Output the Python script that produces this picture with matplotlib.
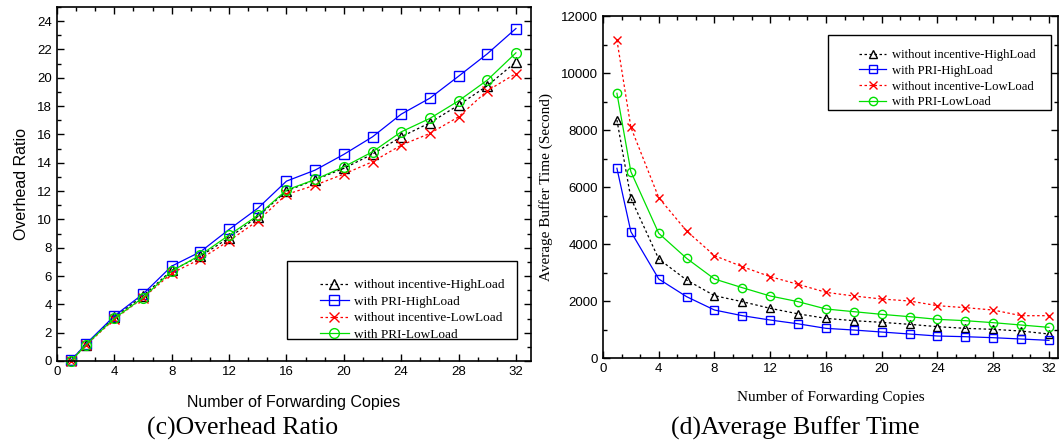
import matplotlib.pyplot as plt
from matplotlib import ticker
from matplotlib.patches import Rectangle

copies = [1, 2, 4, 6, 8, 10, 12, 14, 16, 18, 20, 22, 24, 26, 28, 30, 32]

labels = [
    "without incentive-HighLoad",
    "with PRI-HighLoad",
    "without incentive-LowLoad",
    "with PRI-LowLoad",
]

# (c) overhead ratio
overhead_noinc_high = [0.05, 1.15, 3.1, 4.6, 6.4, 7.4, 8.7, 10.2, 12.0, 12.8,
                       13.6, 14.61, 15.83, 16.82, 18.07, 19.43, 21.12]
overhead_pri_high = [0.07, 1.18, 3.18, 4.73, 6.7, 7.71, 9.29, 10.78, 12.7,
                     13.48, 14.59, 15.83, 17.43, 18.56, 20.11, 21.69, 23.48]
overhead_noinc_low = [0.0, 1.1, 2.95, 4.45, 6.2, 7.2, 8.49, 9.9, 11.76, 12.42,
                      13.2, 14.07, 15.24, 16.07, 17.24, 19.08, 20.3]
overhead_pri_low = [0.0, 1.13, 3.01, 4.47, 6.35, 7.48, 8.89, 10.28, 12.07,
                    12.82, 13.71, 14.77, 16.18, 17.13, 18.37, 19.83, 21.76]

# (d) average buffer time
buffer_noinc_high = [8351, 5604, 3474, 2737, 2187, 1977, 1743, 1550, 1392,
                     1310, 1252, 1182, 1100, 1041, 1006, 947, 842]
buffer_pri_high = [6656, 4432, 2772, 2152, 1684, 1485, 1333, 1200, 1041, 982,
                   912, 842, 772, 748, 713, 667, 620]
buffer_noinc_low = [11158, 8095, 5626, 4456, 3591, 3205, 2854, 2585, 2305,
                    2176, 2070, 2000, 1836, 1766, 1684, 1485, 1485]
buffer_pri_low = [9288, 6538, 4375, 3497, 2772, 2467, 2176, 1977, 1720, 1626,
                  1532, 1450, 1357, 1310, 1240, 1158, 1076]

styles = [
    {"color": "black", "marker": "^", "linestyle": (0, (2, 2))},
    {"color": "blue", "marker": "s", "linestyle": "solid"},
    {"color": "red", "marker": "x", "linestyle": (0, (2, 2))},
    {"color": "#00e000", "marker": "o", "linestyle": "solid"},
]

SANS = "Liberation Sans"
SERIF = "Liberation Serif"

fig = plt.figure(figsize=(10.59, 4.42), dpi=100)
ax_c = fig.add_axes([0.0538, 0.1833, 0.4476, 0.8009])
ax_d = fig.add_axes([0.5694, 0.19, 0.4297, 0.7738])


def style_axes(ax):
    ax.tick_params(which="both", direction="in", top=True, right=True,
                   width=1)
    ax.tick_params(which="major", length=5)
    ax.tick_params(which="minor", length=3)
    for spine in ax.spines.values():
        spine.set_linewidth(1.2)
    for lab in ax.get_xticklabels() + ax.get_yticklabels():
        lab.set_fontfamily(SANS)
        lab.set_fontsize(9.5)


def draw_series(ax, series, ms):
    handles = []
    for ys, st in zip(series, styles):
        line, = ax.plot(copies, ys, color=st["color"], marker=st["marker"],
                        linestyle=st["linestyle"], linewidth=0.9,
                        markersize=ms, markerfacecolor="none",
                        markeredgecolor=st["color"], markeredgewidth=1.0,
                        clip_on=False)
        handles.append(line)
    return handles


def boxed_legend(ax, handles, box, anchor, fontsize, spacing):
    # frame drawn separately: the original box has empty room on its left
    ax.add_patch(Rectangle((box[0], box[1]), box[2], box[3],
                           transform=ax.transAxes, fill=False,
                           edgecolor="black", linewidth=1.0, zorder=5))
    leg = ax.legend(handles, labels, loc="upper left", bbox_to_anchor=anchor,
                    frameon=False, handlelength=2.2, handletextpad=0.4,
                    labelspacing=spacing, borderpad=0.0,
                    prop={"family": SERIF, "size": fontsize})
    return leg


# ---- (c) Overhead Ratio ----
h_c = draw_series(ax_c, [overhead_noinc_high, overhead_pri_high,
                         overhead_noinc_low, overhead_pri_low], 7)
ax_c.set_xlim(0, 33.05)
ax_c.set_ylim(0, 25)
ax_c.xaxis.set_major_locator(ticker.MultipleLocator(4))
ax_c.xaxis.set_minor_locator(ticker.MultipleLocator(4 / 3))
ax_c.yaxis.set_major_locator(ticker.MultipleLocator(2))
ax_c.yaxis.set_minor_locator(ticker.MultipleLocator(1))
style_axes(ax_c)
ax_c.set_xlabel("Number of Forwarding Copies", fontfamily=SANS, fontsize=11.5,
                labelpad=12)
ax_c.set_ylabel("Overhead Ratio", fontfamily=SANS, fontsize=11.5, labelpad=6)
boxed_legend(ax_c, h_c, (0.486, 0.062, 0.485, 0.22), (0.54, 0.25), 9.5,
             0.32)

# ---- (d) Average Buffer Time ----
h_d = draw_series(ax_d, [buffer_noinc_high, buffer_pri_high,
                         buffer_noinc_low, buffer_pri_low], 6)
ax_d.set_xlim(0, 32.65)
ax_d.set_ylim(0, 12000)
ax_d.xaxis.set_major_locator(ticker.MultipleLocator(4))
ax_d.xaxis.set_minor_locator(ticker.MultipleLocator(4 / 3))
ax_d.yaxis.set_major_locator(ticker.MultipleLocator(2000))
ax_d.yaxis.set_minor_locator(ticker.MultipleLocator(1000))
style_axes(ax_d)
ax_d.set_xlabel("Number of Forwarding Copies", fontfamily=SERIF, fontsize=11,
                labelpad=11)
ax_d.set_ylabel("Average Buffer Time (Second)", fontfamily=SERIF,
                fontsize=11, labelpad=6)
boxed_legend(ax_d, h_d, (0.495, 0.725, 0.49, 0.22), (0.548, 0.922), 9.1,
             0.3)

fig.text(0.2295, 0.017, "(c)Overhead Ratio", fontfamily=SERIF, fontsize=18.5,
         ha="center", va="baseline")
fig.text(0.7507, 0.017, "(d)Average Buffer Time", fontfamily=SERIF,
         fontsize=18.5, ha="center", va="baseline")

fig.savefig("out.png", dpi=100)
